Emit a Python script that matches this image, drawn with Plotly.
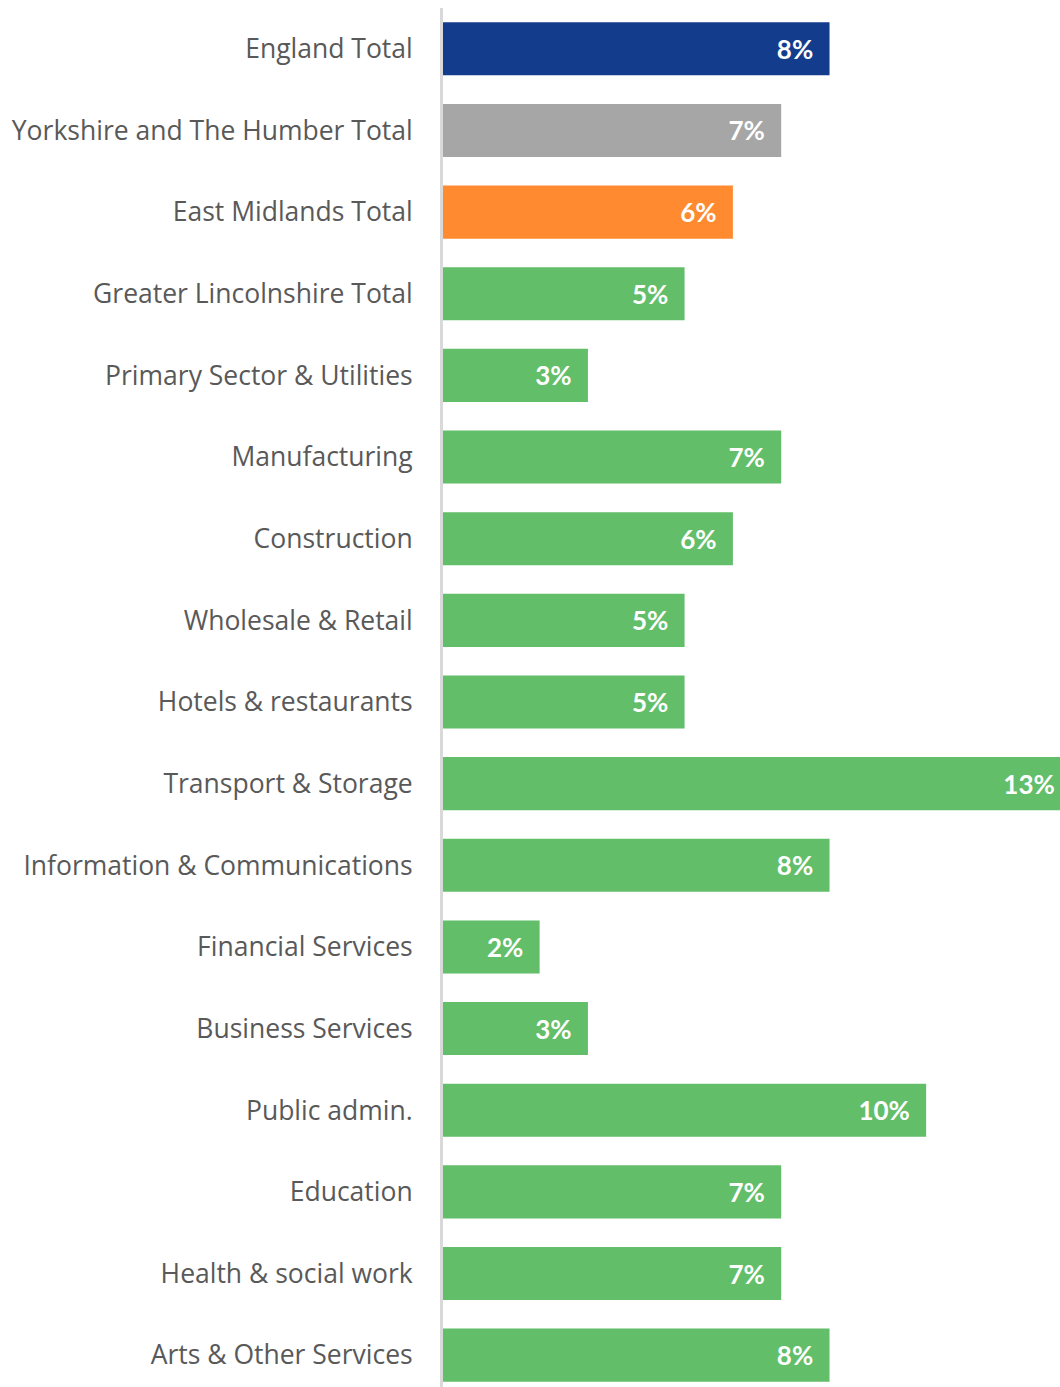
import plotly.graph_objects as go

categories = [
    "England Total",
    "Yorkshire and The Humber Total",
    "East Midlands Total",
    "Greater Lincolnshire Total",
    "Primary Sector & Utilities",
    "Manufacturing",
    "Construction",
    "Wholesale & Retail",
    "Hotels & restaurants",
    "Transport & Storage",
    "Information & Communications",
    "Financial Services",
    "Business Services",
    "Public admin.",
    "Education",
    "Health & social work",
    "Arts & Other Services",
]
values = [0.08, 0.07, 0.06, 0.05, 0.03, 0.07, 0.06, 0.05, 0.05, 0.13, 0.08, 0.02, 0.03, 0.10, 0.07, 0.07, 0.08]
labels = ["8%", "7%", "6%", "5%", "3%", "7%", "6%", "5%", "5%", "13%", "8%", "2%", "3%", "10%", "7%", "7%", "8%"]

BLUE = "#143C8C"
GRAY = "#A6A6A6"
ORANGE = "#FF8A30"
GREEN = "#63BE6A"
colors = [BLUE, GRAY, ORANGE] + [GREEN] * (len(categories) - 3)

PAD = "\u00a0\u00a0"

fig = go.Figure()
fig.add_trace(go.Bar(
    x=values,
    y=categories,
    orientation="h",
    marker=dict(color=colors, line=dict(width=0)),
    text=["<b>" + t + "</b>" + PAD for t in labels],
    textposition="inside",
    insidetextanchor="end",
    textangle=0,
    insidetextfont=dict(family="Lato", size=26, color="white"),
    constraintext="none",
    hoverinfo="skip",
))

fig.update_layout(
    width=1060, height=1387,
    margin=dict(l=443, r=0, t=8, b=0),
    paper_bgcolor="white", plot_bgcolor="white",
    bargap=0.35,
    showlegend=False,
    xaxis=dict(range=[0, 0.1277], visible=False, showgrid=False, zeroline=False),
    yaxis=dict(
        range=[16.39, -0.5],
        showgrid=False, zeroline=False,
        showline=True, linecolor="#D9D9D9", linewidth=3,
        ticks="", ticklabelstandoff=22,
        tickfont=dict(family="Open Sans", size=26.5, color="#595959"),
    ),
)

fig.write_html(
    "out.html",
    config={"displayModeBar": False},
    post_script="document.body.style.margin='0';document.body.style.overflow='hidden';",
)
